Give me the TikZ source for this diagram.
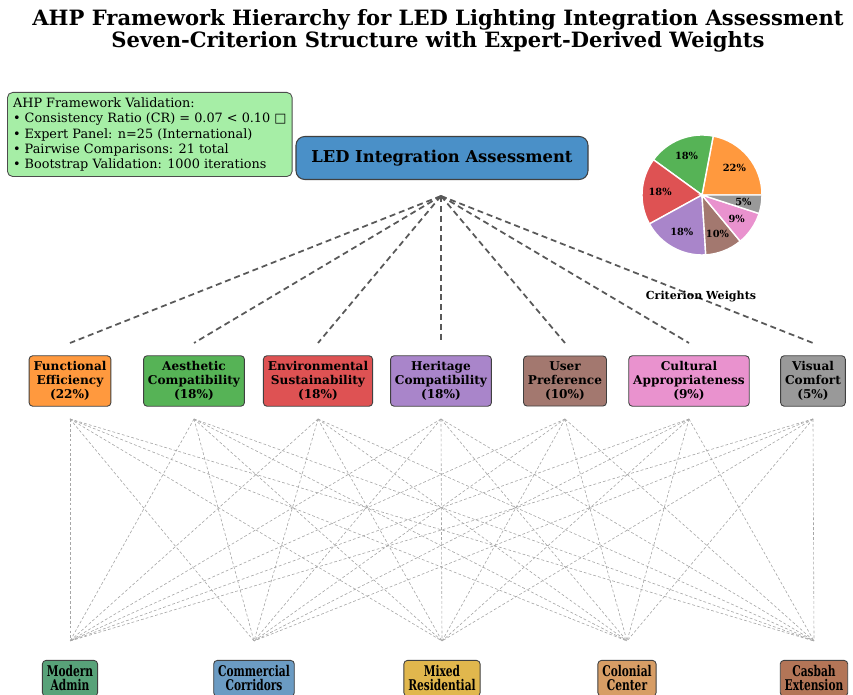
\documentclass[tikz,border=0pt]{standalone}
\usepackage{fontspec}
\setmainfont{DejaVu Serif}
\newfontfamily\symfont{DejaVu Sans}
\usetikzlibrary{positioning}

\definecolor{critA}{RGB}{255,153,62}
\definecolor{critB}{RGB}{86,179,86}
\definecolor{critC}{RGB}{222,82,83}
\definecolor{critD}{RGB}{169,133,202}
\definecolor{critE}{RGB}{163,120,111}
\definecolor{critF}{RGB}{233,146,206}
\definecolor{critG}{RGB}{153,153,153}
\definecolor{altA}{RGB}{88,162,121}
\definecolor{altB}{RGB}{107,155,195}
\definecolor{altC}{RGB}{225,183,77}
\definecolor{altD}{RGB}{215,157,101}
\definecolor{altE}{RGB}{179,117,87}
\definecolor{rootblue}{RGB}{74,144,200}
\definecolor{infogreen}{RGB}{166,238,166}

\newcommand{\cond}[1]{\scalebox{0.72}[1]{#1}}

\begin{document}
\begin{tikzpicture}[x=0.02cm, y=-0.02cm,
    crit/.style={draw=black!75, rounded corners=2pt, line width=0.5pt,
      inner xsep=2.5pt, inner ysep=3.2pt, align=center,
      font=\fontsize{6.9}{8}\selectfont\bfseries},
    alt/.style={draw=black!75, rounded corners=2pt, line width=0.5pt,
      inner xsep=2.5pt, inner ysep=3pt, align=center,
      font=\fontsize{8.4}{7.9}\selectfont\bfseries},
    hubline/.style={dash pattern=on 3.4pt off 2.2pt, line width=1pt, black!65},
    linkline/.style={dash pattern=on 1.6pt off 1.2pt, line width=0.35pt, black!35}]

    \useasboundingbox (0,0) rectangle (853,695);

    % Title
    \node[align=center, font=\fontsize{12}{12.6}\selectfont\bfseries] (title) at (438,31)
      {AHP Framework Hierarchy for LED Lighting Integration Assessment\\
       Seven-Criterion Structure with Expert-Derived Weights};

    % Validation box
    \node[anchor=north west, draw=black!70, fill=infogreen, rounded corners=3pt,
      line width=0.5pt, align=left, inner sep=3.2pt,
      font=\fontsize{7.3}{8.6}\selectfont] (info) at (7,92)
      {AHP Framework Validation:\\
       • Consistency Ratio (CR) = 0.07 < 0.10 {\symfont □}\\
       • Expert Panel: n=25 (International)\\
       • Pairwise Comparisons: 21 total\\
       • Bootstrap Validation: 1000 iterations};

    % Goal
    \node[draw=black!75, fill=rootblue, rounded corners=5pt, line width=0.6pt,
      minimum width=292*0.02cm, minimum height=43*0.02cm,
      font=\fontsize{9.3}{10}\selectfont\bfseries] (root) at (442,158)
      {LED Integration Assessment};
    \coordinate (hub) at (441,196);

    % Criteria
    \foreach \i/\x/\txt/\col in {
        1/70/{Functional\\Efficiency\\(22\%)}/critA,
        2/194/{Aesthetic\\Compatibility\\(18\%)}/critB,
        3/318/{Environmental\\Sustainability\\(18\%)}/critC,
        4/441/{Heritage\\Compatibility\\(18\%)}/critD,
        5/565/{User\\Preference\\(10\%)}/critE,
        6/689/{Cultural\\Appropriateness\\(9\%)}/critF,
        7/813/{Visual\\Comfort\\(5\%)}/critG} {
      \node[crit, fill=\col] (c\i) at (\x,381) {\txt};
      \coordinate (c\i-in) at (\x,343);
      \coordinate (c\i-out) at (\x,419);
      \draw[hubline] (hub) -- (c\i-in);
    }

    % Alternatives
    \foreach \j/\x/\txt/\col in {
        1/70/{\cond{Modern}\\\cond{Admin}}/altA,
        2/254/{\cond{Commercial}\\\cond{Corridors}}/altB,
        3/442/{\cond{Mixed}\\\cond{Residential}}/altC,
        4/627/{\cond{Colonial}\\\cond{Center}}/altD,
        5/814/{\cond{Casbah}\\\cond{Extension}}/altE} {
      \node[alt, fill=\col, anchor=north] (a\j) at (\x,660) {\txt};
      \coordinate (a\j-in) at (\x,641);
    }

    % Criterion -> alternative links
    \foreach \i in {1,...,7}
      \foreach \j in {1,...,5}
        \draw[linkline] (c\i-out) -- (a\j-in);

    % Weight pie
    \begin{scope}[shift={(702,195)}, yscale=-1]
      \def\r{60}
      \foreach \a/\b/\col/\lab [count=\k] in {0/79.2/critA/22, 79.2/144/critB/18,
          144/208.8/critC/18, 208.8/273.6/critD/18, 273.6/309.6/critE/10,
          309.6/342/critF/9, 342/360/critG/5} {
        \fill[\col, draw=white, line width=0.8pt] (0,0) -- (\a:\r)
          arc[start angle=\a, end angle=\b, radius=\r] -- cycle;
        \node[font=\fontsize{5.6}{6}\selectfont\bfseries, inner sep=0pt] (pct\k)
          at ({(\a+\b)/2}:42) {\lab\%};
      }
    \end{scope}
    \node[font=\fontsize{6.3}{7}\selectfont\bfseries] (pielabel) at (701,297) {Criterion Weights};
\end{tikzpicture}
\end{document}
